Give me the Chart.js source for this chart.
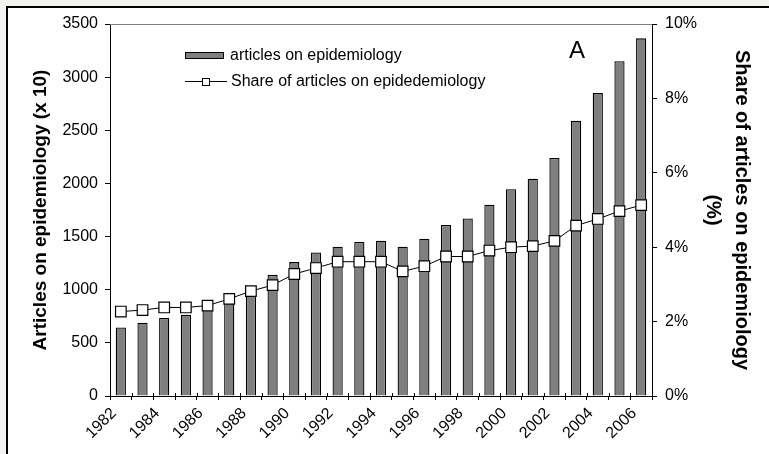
<!DOCTYPE html>
<html>
<head>
<meta charset="utf-8">
<script src="https://cdn.jsdelivr.net/npm/chart.js@4.4.1/dist/chart.umd.min.js"></script>
<style>
  html, body { margin: 0; padding: 0; background: #f2f2ee; overflow: hidden; }
  #frame { position: absolute; left: 6px; top: 6px; width: 770px; height: 460px;
           border-left: 2px solid #000; border-top: 2px solid #000; background: #fff; }
  #wrap { position: absolute; left: 0; top: 0; width: 769px; height: 454px; }
</style>
</head>
<body>
<div id="frame"></div>
<div id="wrap"><canvas id="chart" width="769" height="454"></canvas></div>
<script>
const years = ["1982", "1983", "1984", "1985", "1986", "1987", "1988", "1989", "1990", "1991",
  "1992", "1993", "1994", "1995", "1996", "1997", "1998", "1999", "2000", "2001",
  "2002", "2003", "2004", "2005", "2006"];

// articles on epidemiology (x 10)
const articles = [645, 690, 735, 765, 810, 900, 980, 1140, 1260, 1350,
  1405, 1450, 1460, 1405, 1480, 1610, 1670, 1800, 1945, 2045,
  2240, 2590, 2850, 3150, 3365];

// share of articles, in %
const share = [2.27, 2.31, 2.38, 2.38, 2.43, 2.61, 2.82, 2.98, 3.28, 3.44,
  3.61, 3.61, 3.61, 3.35, 3.49, 3.75, 3.75, 3.91, 4.00, 4.03,
  4.17, 4.58, 4.76, 4.97, 5.13];

const FONT = "'Liberation Sans', Arial, sans-serif";

// legend + "A" + gray top line of the plot
const extras = {
  id: "extras",
  afterDraw(chart) {
    const ctx = chart.ctx;
    const area = chart.chartArea;
    const ds = chart.data.datasets;
    ctx.save();
    // top border of plot area
    ctx.strokeStyle = "#808080";
    ctx.lineWidth = 1;
    ctx.beginPath();
    ctx.moveTo(area.left, area.top + 0.5);
    ctx.lineTo(area.right, area.top + 0.5);
    ctx.stroke();

    // x axis ticks also poke up a little above the axis
    const xs = chart.scales.x;
    ctx.strokeStyle = "#000";
    ctx.beginPath();
    for (let i = 0; i <= years.length; i++) {
      const px = Math.round(xs.left + i * (xs.width / years.length)) + 0.5;
      ctx.moveTo(px, area.bottom - 3);
      ctx.lineTo(px, area.bottom);
    }
    ctx.stroke();

    // legend
    ctx.font = "16px " + FONT;
    ctx.textBaseline = "middle";
    ctx.fillStyle = "#808080";
    ctx.fillRect(185.5, 52.5, 38, 6);
    ctx.strokeStyle = "#000";
    ctx.strokeRect(185.5, 52.5, 38, 6);
    ctx.fillStyle = "#000";
    ctx.fillText(ds[0].label, 230, 56);

    ctx.beginPath();
    ctx.moveTo(185, 81.5);
    ctx.lineTo(227, 81.5);
    ctx.stroke();
    ctx.fillStyle = "#fff";
    ctx.fillRect(202.5, 78.5, 7, 7);
    ctx.strokeRect(202.5, 78.5, 7, 7);
    ctx.fillStyle = "#000";
    ctx.fillText(ds[1].label, 231, 82);

    // panel letter
    ctx.font = "24px " + FONT;
    ctx.textAlign = "center";
    ctx.textBaseline = "alphabetic";
    ctx.fillText("A", 577, 58);
    ctx.restore();
  }
};

new Chart(document.getElementById("chart"), {
  type: "bar",
  data: {
    labels: years,
    datasets: [
      {
        label: "articles on epidemiology",
        data: articles,
        yAxisID: "y",
        backgroundColor: "#7f7f7f",
        borderColor: "#000",
        borderWidth: 1.3,
        barPercentage: 0.47,
        categoryPercentage: 1,
        order: 2,
      },
      {
        type: "line",
        label: "Share of articles on epidedemiology",
        data: share,
        yAxisID: "y1",
        borderColor: "#000",
        borderWidth: 1,
        pointStyle: "rect",
        pointRadius: 7.5,
        pointBackgroundColor: "#fff",
        pointBorderColor: "#000",
        pointBorderWidth: 1.2,
        tension: 0,
        order: 1,
      },
    ],
  },
  options: {
    responsive: false,
    animation: false,
    layout: { padding: { left: 0, top: 24, right: 0, bottom: 0 } },
    plugins: { legend: { display: false }, tooltip: { enabled: false } },
    scales: {
      x: {
        offset: true,
        grid: { drawOnChartArea: false, drawTicks: true, tickLength: 4, color: "#000", offset: true },
        border: { color: "#000", width: 1 },
        ticks: {
          autoSkip: false,
          minRotation: 45,
          maxRotation: 45,
          padding: 4,
          labelOffset: -7,
          color: "#000",
          font: { family: FONT, size: 16 },
          callback: (v, i) => (i % 2 === 0 ? years[i] : ""),
        },
        afterFit: (s) => { s.height = 58; },
      },
      y: {
        position: "left",
        min: 0,
        max: 3500,
        ticks: {
          stepSize: 500,
          padding: 7,
          color: "#000",
          font: { family: FONT, size: 16 },
          callback: (v) => String(v),
        },
        grid: { drawOnChartArea: false, tickLength: 5, color: "#000" },
        border: { color: "#000", width: 1 },
        title: {
          display: true,
          text: "Articles on epidemiology (x 10)",
          color: "#000",
          font: { family: FONT, size: 19, weight: "bold" },
          padding: { top: 29, bottom: 0 },
        },
        afterFit: (s) => { s.width = 110; },
      },
      y1: {
        position: "right",
        min: 0,
        max: 10,
        ticks: {
          stepSize: 2,
          padding: 8,
          color: "#000",
          font: { family: FONT, size: 16 },
          callback: (v) => v + "%",
        },
        grid: { drawOnChartArea: false, tickLength: 5, color: "#000" },
        border: { color: "#000", width: 1 },
        title: {
          display: true,
          text: ["Share of articles on epidemiology", "(%)"],
          color: "#000",
          font: { family: FONT, size: 20, weight: "bold", lineHeight: "29px" },
          padding: { top: 13, bottom: 0 },
        },
        afterFit: (s) => { s.width = 117; },
      },
    },
  },
  plugins: [extras],
});
</script>
</body>
</html>
